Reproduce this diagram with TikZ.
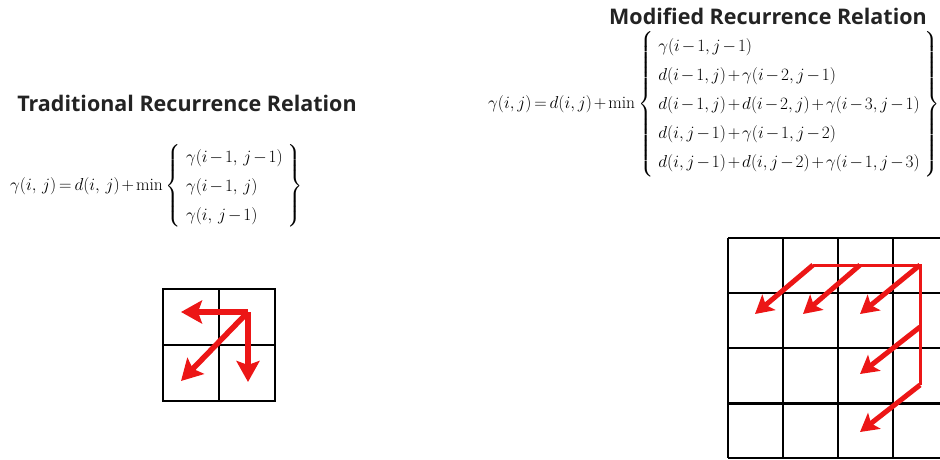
\documentclass[tikz,border=0pt]{standalone}
\usepackage{amsmath}
\usepackage{fontspec}
\usepackage{xcolor}
\usepackage{tikz}
\setsansfont{Open Sans}
\usetikzlibrary{arrows.meta}
\definecolor{accRed}{RGB}{236, 22, 22}
\definecolor{txtGray}{RGB}{35, 35, 35}

\tikzset{
    heading/.style={font=\fontsize{21.5}{25}\sffamily\bfseries\color{txtGray}},
    eqn/.style={font=\fontsize{17.5}{21}\selectfont, inner sep=0pt, anchor=west},
    cell/.style={draw=black, line width=1.4pt},
    move/.style={draw=accRed, line width=5.5pt, -{Stealth[length=21pt, width=23pt, inset=4pt]}},
    smallmove/.style={draw=accRed, line width=5pt, -{Stealth[length=18pt, width=20pt, inset=4pt]}},
    link/.style={draw=accRed, line width=3pt}
}
\renewcommand{\arraystretch}{1.38}
\medmuskip=2mu plus 1mu minus 1mu
\thickmuskip=3mu plus 1mu minus 1mu

\begin{document}
\begin{tikzpicture}[x=1pt, y=-1pt]
        \useasboundingbox (0,0) rectangle (940,460);
        \clip (0,0) rectangle (940,460);
        % traditional relation: three predecessors
        \node[heading] (tradTitle) at (187,103) {Traditional Recurrence Relation};
        \node[eqn] (tradEq) at (10,186) {$\gamma(i,\,j) = d(i,\,j) + \min\left\{\begin{array}{l}
            \gamma(i-1,\,j-1)\\
            \gamma(i-1,\,j)\\
            \gamma(i,\,j-1)
        \end{array}\right\}$};
        % modified relation: five predecessors
        \node[heading] (modTitle) at (768,16) {Modified Recurrence Relation};
        \node[eqn] (modEq) at (488,104) {$\gamma(i,j) = d(i,j) + \min\left\{\begin{array}{l}
            \gamma(i-1,j-1)\\
            d(i-1,j)+\gamma(i-2,j-1)\\
            d(i-1,j)+d(i-2,j)+\gamma(i-3,j-1)\\
            d(i,j-1)+\gamma(i-1,j-2)\\
            d(i,j-1)+d(i,j-2)+\gamma(i-1,j-3)
        \end{array}\right\}$};
        % small 2x2 grid
        \draw[cell] (163,289) rectangle (275,401);
        \draw[cell] (219,289) -- (219,401) (163,345) -- (275,345);
        \coordinate (tHub) at (248,312);
        \coordinate (tLeft) at (181,312);
        \coordinate (tDown) at (248,382);
        \coordinate (tDiag) at (181,381);
        \draw[move] (tHub) -- (tLeft);
        \draw[move] (tHub) -- (tDown);
        \draw[move] (tHub) -- (tDiag);
        % large grid, cut at the right edge
        \foreach \x in {728,783,838,893} \draw[cell] (\x,238) -- (\x,458);
        \foreach \y in {238,293,348,458} \draw[cell] (728,\y) -- (948,\y);
        \draw[cell, line width=3pt] (728,403) -- (948,403);
        \coordinate (mHub) at (920,265);
        \coordinate (mRowA) at (860,265);
        \coordinate (mRowB) at (813,265);
        \coordinate (mColA) at (920,327);
        \coordinate (mColB) at (920,385);
        \draw[link] (mRowB) -- (mHub) -- (mColB);
        \draw[smallmove] (mHub) -- (860,314);
        \draw[smallmove] (mRowA) -- (803,314);
        \draw[smallmove] (mRowB) -- (755,314);
        \draw[smallmove] (mColA) -- (860,374);
        \draw[smallmove] (mColB) -- (860,432);
    \end{tikzpicture}
\end{document}
